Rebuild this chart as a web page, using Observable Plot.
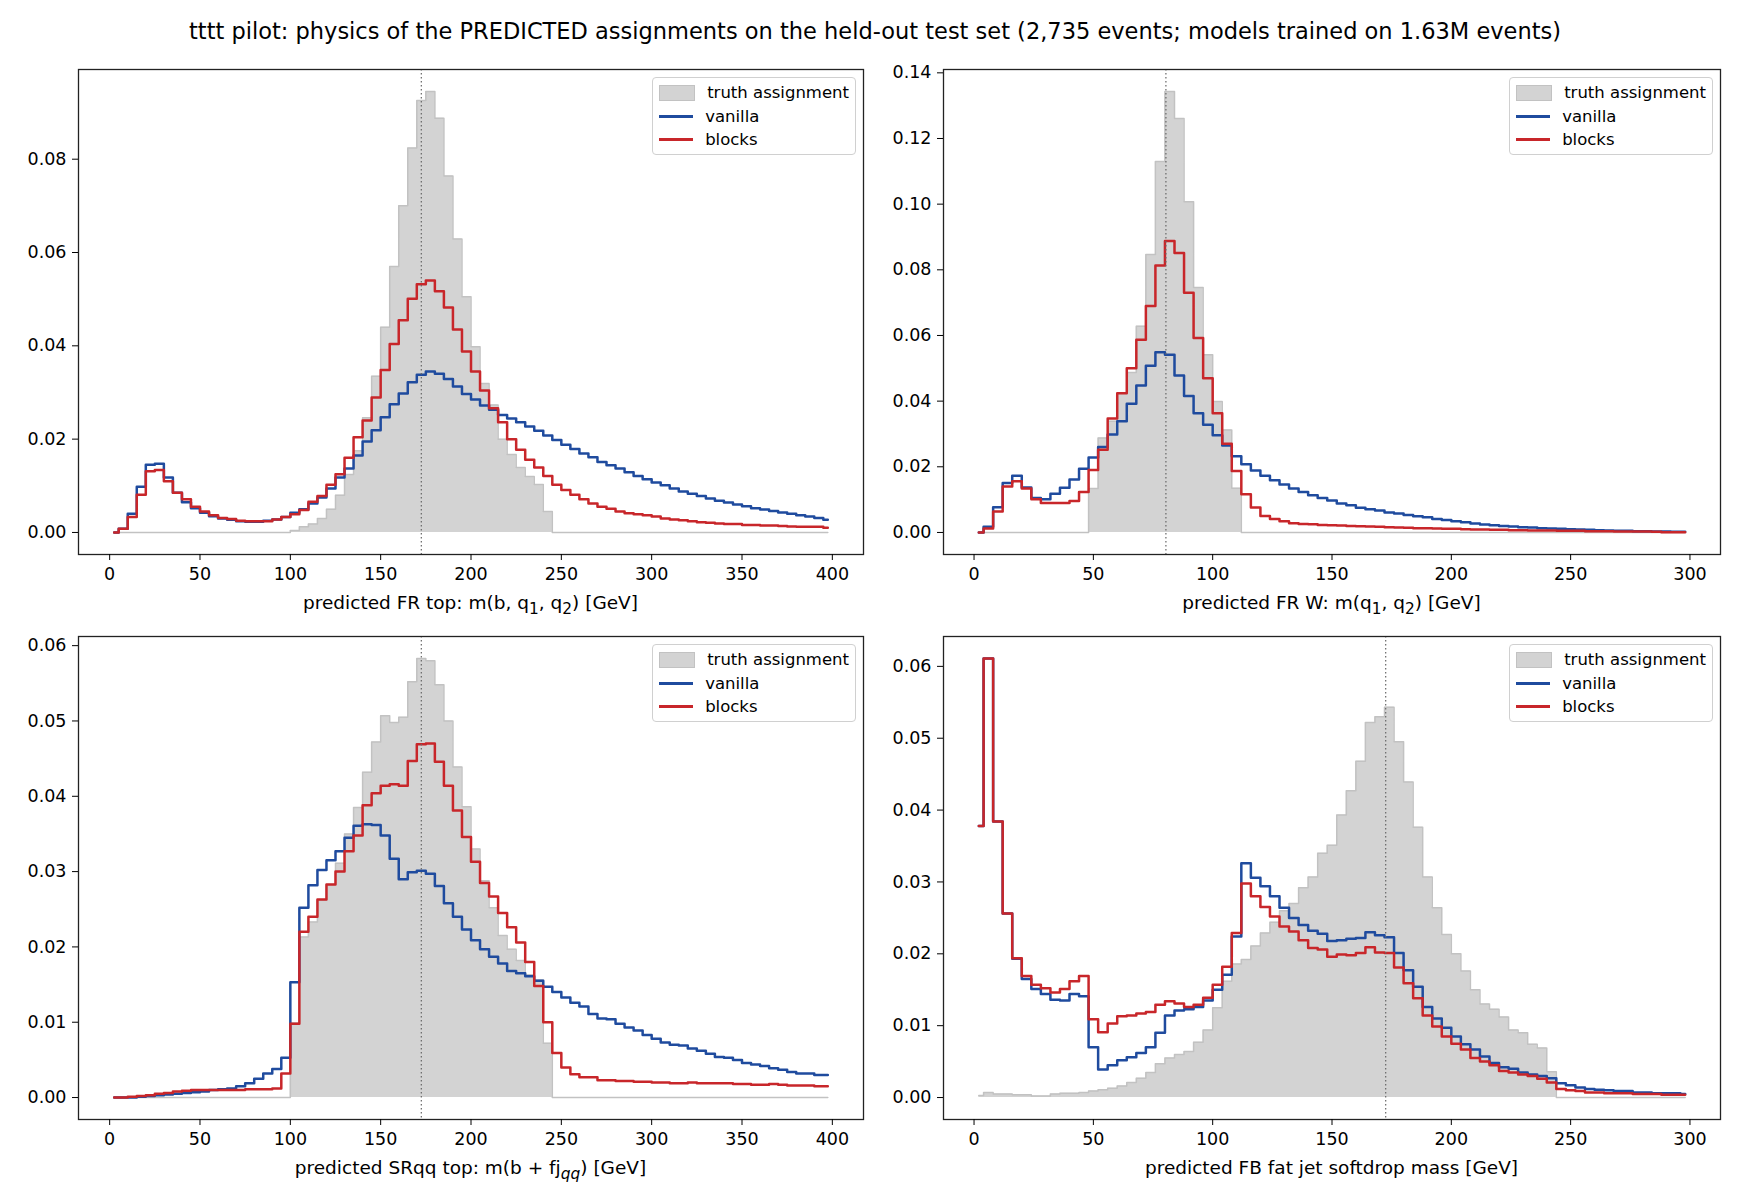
<!DOCTYPE html>
<html><head><meta charset="utf-8">
<script src="https://cdn.jsdelivr.net/npm/d3@7"></script>
<script src="https://cdn.jsdelivr.net/npm/@observablehq/plot@0.6"></script>
<style>
body{margin:0;background:#fff;font-family:"DejaVu Sans",sans-serif;}
#page{position:relative;width:1750px;height:1204px;}
.abs{position:absolute;}
.xl{position:absolute;font-size:18.5px;transform:translateX(-50%);white-space:nowrap;}
.leg{position:absolute;border:1px solid #d0d0d0;border-radius:4px;background:rgba(255,255,255,0.85);padding:3px 6px 2px 6px;font-size:16.5px;z-index:5}
.leg div{display:flex;align-items:center;height:23.5px}
.sw{width:34px;margin-right:12px}
</style></head>
<body><div id="page">
<div class="abs" style="left:0;width:1750px;top:18px;text-align:center;font-size:22.5px">tttt pilot: physics of the PREDICTED assignments on the held-out test set (2,735 events; models trained on 1.63M events)</div>
</div>
<script>
// ---------- data ----------
const binWidth1 = 5, binWidth2 = 4, binWidth3 = 5, binWidth4 = 4;
const topMass = 172.5, wMass = 80.4;

const z = n => Array(n).fill(0);
const truth1 = [...z(20), .0004,.0012,.0018,.003,.005,.008,.0124,.0175,.0246,.0335,.044,.057,.070,.0824,.0926,.0945,.0888,.0764,.0629,.0505,.0398,.0319,.0273,.020,.0167,.0139,.012,.0103,.0045, ...z(31)];
const blocks1 = [0,.0008,.0033,.0081,.0131,.0134,.011,.0085,.0071,.0055,.0045,.0037,.0031,.0029,.0025,.0024,.0024,.0024,.0028,.0033,.0039,.0048,.0066,.0078,.0102,.0125,.016,.0204,.024,.0289,.0348,.0404,.0455,.0501,.0532,.054,.0517,.0482,.0435,.0388,.0345,.0304,.0266,.0236,.020,.0177,.0156,.0139,.0121,.0102,.0091,.0081,.0071,.0062,.0055,.0051,.0045,.0041,.0039,.0037,.0034,.003,.0028,.0026,.0024,.0022,.0021,.0019,.0018,.0018,.0016,.0016,.0015,.0015,.0014,.0013,.0012,.0012,.0012,.001];
const vanilla1 = [0,.0008,.004,.0098,.0145,.0147,.0118,.0085,.0065,.0052,.0042,.0035,.003,.0027,.0024,.0023,.0023,.0025,.0028,.0033,.0042,.005,.0062,.0075,.0094,.0118,.0137,.0165,.0195,.0219,.0247,.0275,.0298,.0322,.0338,.0345,.034,.0329,.0313,.0297,.0285,.0272,.0263,.0252,.0244,.0236,.0227,.0218,.0208,.0198,.0188,.0179,.0169,.0161,.0151,.0144,.0137,.0129,.0121,.0114,.0107,.0101,.0094,.0088,.0083,.0078,.0073,.0068,.0064,.006,.0056,.0052,.0049,.0046,.0043,.004,.0037,.0034,.0031,.0027];

const truth2 = [...z(12), .0134,.0288,.0339,.0424,.0487,.0628,.0847,.113,.1343,.1261,.1007,.0746,.0541,.0399,.0312,.0135, ...z(47)];
const blocks2 = [0,.0012,.0064,.014,.0156,.0134,.0101,.009,.009,.009,.0096,.0123,.019,.0252,.0347,.0424,.050,.0587,.069,.0813,.0888,.0851,.073,.0592,.047,.0363,.027,.0187,.0116,.0076,.005,.0041,.0034,.0028,.0026,.0025,.0023,.0022,.0021,.002,.0019,.0018,.0017,.0016,.0015,.0014,.0013,.0013,.0012,.0011,.0011,.001,.0009,.0009,.0008,.0008,.0007,.0007,.0006,.0006,.0006,.0005,.0005,.0005,.0004,.0004,.0004,.0003,.0003,.0003,.0003,.0002,.0001,.0001,.0001];
const vanilla2 = [0,.0017,.0077,.0151,.0173,.0137,.0105,.0101,.0118,.0136,.0161,.0194,.0228,.026,.0298,.0339,.0392,.0448,.0508,.0549,.0541,.0478,.0416,.0363,.0328,.0296,.0265,.0232,.0208,.0189,.0173,.0159,.0146,.0134,.0123,.0113,.0105,.0097,.0088,.0083,.0075,.0071,.0067,.0061,.0058,.0053,.0049,.0046,.0041,.0038,.0034,.0031,.0027,.0024,.0022,.002,.0018,.0016,.0015,.0013,.0012,.0011,.001,.0009,.0008,.0007,.0006,.0005,.0005,.0004,.0004,.0003,.0003,.0002,.0002];

const truth3 = [...z(20), .0099,.0213,.0233,.0262,.0283,.0311,.035,.0385,.0432,.0472,.0507,.0498,.0505,.0552,.0583,.058,.0548,.05,.0439,.0386,.033,.0288,.0252,.0215,.0197,.0182,.0163,.0156,.0072, ...z(31)];
const blocks3 = [0,0,.0001,.0002,.0003,.0005,.0006,.0008,.0009,.001,.001,.001,.001,.001,.001,.0011,.0011,.0011,.0012,.0032,.0098,.022,.024,.0263,.0283,.030,.0327,.0348,.0388,.0404,.0414,.0416,.0414,.0447,.0469,.047,.0446,.0414,.0381,.0346,.0313,.0285,.0267,.0245,.0226,.0206,.018,.0148,.01,.0059,.004,.0031,.0027,.0027,.0023,.0023,.0022,.0022,.0021,.0021,.002,.002,.0019,.0019,.002,.0019,.0019,.0019,.0019,.0018,.0018,.0017,.0017,.0018,.0017,.0016,.0016,.0016,.0015,.0015];
const vanilla3 = [0,0,0,.0001,.0002,.0003,.0004,.0005,.0006,.0007,.0008,.001,.0011,.0012,.0015,.0019,.0025,.0032,.0038,.0053,.0153,.0252,.0282,.0302,.0315,.0327,.0345,.0361,.0363,.0362,.0348,.0317,.029,.0299,.0301,.0297,.0281,.0258,.024,.0223,.0209,.0197,.0187,.0178,.0168,.0165,.0161,.0155,.0147,.014,.0133,.0126,.0121,.0111,.0105,.0104,.0098,.0093,.0089,.0083,.0078,.0073,.007,.0069,.0065,.0062,.0058,.0054,.0053,.005,.0046,.0044,.0042,.0039,.0037,.0034,.0032,.0032,.003,.003];

const truth4 = [.0003,.0007,.0005,.0005,.0004,.0004,.0002,.0002,.0005,.0006,.0006,.0007,.0009,.0011,.0013,.0016,.0021,.0027,.0035,.0047,.0055,.006,.0064,.0077,.0094,.0125,.0162,.0186,.0192,.0211,.0229,.0244,.026,.027,.0292,.0307,.034,.0351,.0393,.0427,.0468,.0522,.053,.0543,.0495,.0439,.0376,.0307,.0264,.0227,.02,.0176,.015,.013,.0123,.0112,.0094,.009,.0074,.0069,.0036, ...z(14)];
const blocks4 = [.0378,.0611,.0384,.0256,.0194,.0169,.0157,.0152,.0146,.0151,.0162,.0169,.0109,.0091,.0103,.0113,.0114,.0117,.0119,.0129,.0134,.0131,.0126,.0129,.0139,.0157,.0182,.0229,.0298,.028,.0265,.0252,.0238,.0231,.0219,.0208,.0206,.0196,.0199,.0198,.0201,.0209,.0202,.0201,.0181,.0159,.0138,.0114,.0099,.0085,.0075,.0067,.0055,.005,.0045,.0037,.0035,.0032,.003,.0026,.0021,.0012,.001,.0009,.0007,.0007,.0006,.0006,.0006,.0005,.0005,.0005,.0004,.0004,.0004];
const vanilla4 = [.0378,.0611,.0384,.0256,.0193,.0165,.0151,.0144,.0136,.0135,.0144,.0141,.007,.0039,.0045,.0052,.0056,.0062,.007,.009,.0114,.0121,.0123,.0126,.0135,.015,.0171,.0224,.0326,.0306,.0294,.028,.0264,.025,.024,.0232,.0228,.0218,.0219,.0221,.0222,.023,.0226,.0223,.0201,.0177,.0154,.0126,.011,.0097,.0085,.0074,.0067,.0057,.0048,.0042,.004,.0035,.0032,.003,.0027,.002,.0017,.0014,.0012,.0011,.001,.0009,.0009,.0007,.0007,.0006,.0006,.0006,.0005];

const xTicks400 = [0,50,100,150,200,250,300,350,400];
const xTicks300 = [0,50,100,150,200,250,300];
const yTicks1 = [0,.02,.04,.06,.08];
const yTicks2 = [0,.02,.04,.06,.08,.10,.12,.14];
const yTicks34 = [0,.01,.02,.03,.04,.05,.06];
const legendLabels = ["truth assignment","vanilla","blocks"];
const xLabels = [
  "predicted FR top: m(b, q<sub>1</sub>, q<sub>2</sub>) [GeV]",
  "predicted FR W: m(q<sub>1</sub>, q<sub>2</sub>) [GeV]",
  "predicted SRqq top: m(b + fj<sub><i>qq</i></sub>) [GeV]",
  "predicted FB fat jet softdrop mass [GeV]"
];

// ---------- drawing ----------
const BLUE = "#1f4b9e", RED = "#c8262a", GRAY = "#d3d3d3", GRAYLINE = "#c2c2c2";
const page = document.getElementById("page");

function margin(lo, hi){ const m = (hi-lo)*0.05; return [lo-m, hi+m]; }

function panel(o){
  const n = o.truth.length;
  const rows = d3.range(n).map(i => ({x:(i+0.5)*o.bw, t:o.truth[i], v:o.vanilla[i], b:o.blocks[i]}));
  const ymax = d3.max([...o.truth,...o.vanilla,...o.blocks]);
  const svg = Plot.plot({
    width:o.w, height:545,
    marginLeft:o.ml, marginRight:o.mr, marginTop:19, marginBottom:o.mb,
    style:{fontFamily:"DejaVu Sans", fontSize:"17.5px", background:"transparent", color:"#000", overflow:"visible"},
    x:{domain:margin(rows[0].x, rows[n-1].x), label:null},
    y:{domain:margin(0, ymax), label:null},
    marks:[
      Plot.areaY(rows,{x:"x", y:"t", curve:"step", fill:GRAY}),
      Plot.lineY(rows,{x:"x", y:"t", curve:"step", stroke:GRAYLINE, strokeWidth:1.5}),
      Plot.lineY(rows,{x:"x", y:"v", curve:"step", stroke:BLUE, strokeWidth:2.5}),
      Plot.lineY(rows,{x:"x", y:"b", curve:"step", stroke:RED, strokeWidth:2.5}),
      Plot.ruleX([o.ref],{stroke:"#666", strokeWidth:1.2, strokeDasharray:"1.5,2.5"}),
      Plot.frame({stroke:"#222", strokeWidth:1.3}),
      Plot.axisX({ticks:o.xt, tickFormat:d3.format("d"), label:null, tickSize:6, tickPadding:7}),
      Plot.axisY({ticks:o.yt, tickFormat:d3.format(".2f"), label:null, tickSize:6, tickPadding:6})
    ]
  });
  svg.classList.add("abs");
  svg.style.left = o.left+"px"; svg.style.top = o.top+"px";
  page.appendChild(svg);
  const frameRight = o.left + o.w - o.mr, frameTop = o.top + 19;
  const cx = o.left + (o.ml + o.w - o.mr)/2;
  const xl = document.createElement("div");
  xl.className = "xl"; xl.style.left = cx+"px"; xl.style.top = o.labelY+"px";
  xl.innerHTML = o.xlabel; page.appendChild(xl);
  const leg = document.createElement("div");
  leg.className = "leg";
  leg.style.right = (1750 - frameRight + 7)+"px"; leg.style.top = (frameTop + 8)+"px";
  leg.innerHTML =
    `<div><span class="sw" style="height:14px;background:${GRAY};border:1px solid ${GRAYLINE}"></span>${legendLabels[0]}</div>`+
    `<div><span class="sw" style="height:3px;background:${BLUE}"></span>${legendLabels[1]}</div>`+
    `<div><span class="sw" style="height:3px;background:${RED}"></span>${legendLabels[2]}</div>`;
  page.appendChild(leg);
}

panel({truth:truth1, vanilla:vanilla1, blocks:blocks1, bw:binWidth1, ref:topMass, xt:xTicks400, yt:yTicks1,
  left:0, top:50, w:880, ml:78, mr:17, mb:41, labelY:592, xlabel:xLabels[0]});
panel({truth:truth2, vanilla:vanilla2, blocks:blocks2, bw:binWidth2, ref:wMass, xt:xTicks300, yt:yTicks2,
  left:870, top:50, w:870, ml:73, mr:20, mb:41, labelY:592, xlabel:xLabels[1]});
panel({truth:truth3, vanilla:vanilla3, blocks:blocks3, bw:binWidth3, ref:topMass, xt:xTicks400, yt:yTicks34,
  left:0, top:617, w:880, ml:78, mr:17, mb:43, labelY:1157, xlabel:xLabels[2]});
panel({truth:truth4, vanilla:vanilla4, blocks:blocks4, bw:binWidth4, ref:topMass, xt:xTicks300, yt:yTicks34,
  left:870, top:617, w:870, ml:73, mr:20, mb:43, labelY:1157, xlabel:xLabels[3]});
</script>
</body></html>
